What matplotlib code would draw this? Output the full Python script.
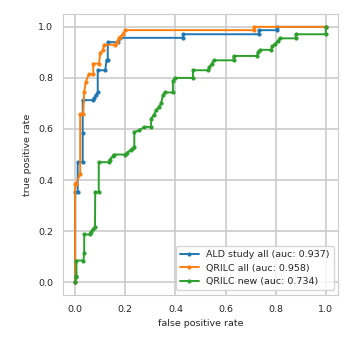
import matplotlib

matplotlib.use("Agg")

import matplotlib.pyplot as plt
import seaborn as sns

# ROC curve points
ald_fpr = [0, 0, 0.01, 0.01, 0.03, 0.03, 0.03, 0.07, 0.076, 0.082, 0.09,
           0.09, 0.12, 0.125, 0.13, 0.13, 0.17, 0.18, 0.43, 0.43, 0.733,
           0.733, 0.805, 0.805, 1.0]
ald_tpr = [0, 0.353, 0.353, 0.47, 0.47, 0.586, 0.713, 0.713, 0.72, 0.732,
           0.745, 0.83, 0.83, 0.869, 0.869, 0.94, 0.94, 0.957, 0.957, 0.971,
           0.971, 0.987, 0.987, 1.0, 1.0]

qrilc_all_fpr = [0, 0, 0.004, 0.02, 0.02, 0.032, 0.036, 0.042, 0.055,
                 0.072, 0.072, 0.095, 0.1, 0.11, 0.115, 0.16, 0.165, 0.175,
                 0.18, 0.19, 0.2, 0.713, 0.713, 1.0]
qrilc_all_tpr = [0, 0.386, 0.386, 0.425, 0.658, 0.658, 0.745, 0.784, 0.815,
                 0.815, 0.856, 0.856, 0.896, 0.909, 0.93, 0.93, 0.94, 0.955,
                 0.96, 0.971, 0.987, 0.987, 1.0, 1.0]

qrilc_new_fpr = [0, 0.003, 0.005, 0.005, 0.033, 0.036, 0.036, 0.058, 0.062,
                 0.072, 0.079, 0.08, 0.094, 0.094, 0.134, 0.137, 0.15, 0.154,
                 0.2, 0.205, 0.222, 0.232, 0.236, 0.236, 0.256, 0.276, 0.303,
                 0.303, 0.313, 0.323, 0.333, 0.343, 0.35, 0.357, 0.39, 0.39,
                 0.397, 0.47, 0.47, 0.53, 0.535, 0.545, 0.553, 0.632, 0.632,
                 0.725, 0.73, 0.737, 0.782, 0.786, 0.796, 0.809, 0.816, 0.88,
                 0.88, 1.0, 1.0]
qrilc_new_tpr = [0, 0.02, 0.026, 0.085, 0.085, 0.114, 0.187, 0.187, 0.196,
                 0.209, 0.216, 0.353, 0.353, 0.47, 0.47, 0.48, 0.493, 0.5,
                 0.5, 0.506, 0.519, 0.527, 0.53, 0.588, 0.595, 0.608, 0.608,
                 0.641, 0.654, 0.673, 0.686, 0.7, 0.732, 0.743, 0.743, 0.788,
                 0.8, 0.8, 0.83, 0.83, 0.841, 0.856, 0.869, 0.869, 0.886,
                 0.886, 0.902, 0.91, 0.91, 0.924, 0.932, 0.945, 0.955, 0.955,
                 0.971, 0.971, 1.0]

labels = [
    "ALD study all (auc: 0.937)",
    "QRILC all (auc: 0.958)",
    "QRILC new (auc: 0.734)",
]

sns.set_style("whitegrid")
plt.rcParams["font.family"] = ["DejaVu Sans"]
plt.rcParams["grid.linewidth"] = 1.2

fig, ax = plt.subplots(figsize=(3.52, 3.52), dpi=100)
curves = [
    (ald_fpr, ald_tpr),
    (qrilc_all_fpr, qrilc_all_tpr),
    (qrilc_new_fpr, qrilc_new_tpr),
]
for (fpr, tpr), label in zip(curves, labels):
    ax.plot(fpr, tpr, marker=".", markersize=4, linewidth=1.4, label=label)

ax.set_xlabel("false positive rate", fontsize=6.8)
ax.set_ylabel("true positive rate", fontsize=6.8)
ax.set_xticks([0.0, 0.2, 0.4, 0.6, 0.8, 1.0])
ax.set_yticks([0.0, 0.2, 0.4, 0.6, 0.8, 1.0])
ax.tick_params(labelsize=6.8)
ax.legend(loc="lower right", fontsize=6.8)

fig.subplots_adjust(left=0.178, right=0.961, bottom=0.162, top=0.960)
fig.savefig("out.png", dpi=100)
plt.close(fig)
